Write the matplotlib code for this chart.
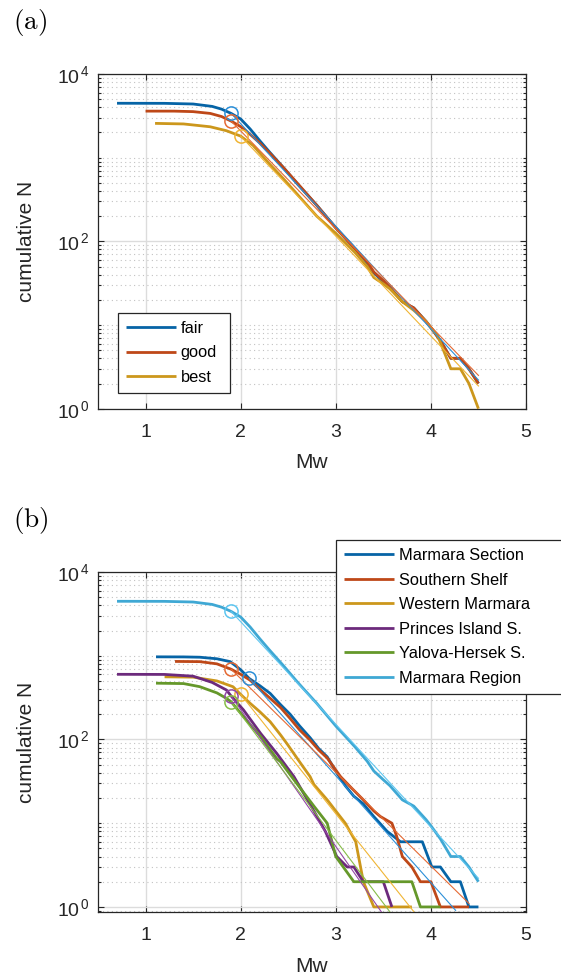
import numpy as np
import matplotlib
matplotlib.use('Agg')
import matplotlib.pyplot as plt
from matplotlib.ticker import FixedLocator, FixedFormatter, NullLocator, NullFormatter, LogLocator

plt.rcParams['font.family'] = ['Liberation Sans', 'DejaVu Sans']
plt.rcParams['mathtext.fontset'] = 'custom'
plt.rcParams['mathtext.rm'] = 'Liberation Sans'
plt.rcParams['mathtext.it'] = 'Liberation Sans:italic'
plt.rcParams['mathtext.bf'] = 'Liberation Sans:bold'

# ---------------- data: panel (a) ----------------
labels_a = ['fair', 'good', 'best']
fair_M = [0.70, 1.20, 1.50, 1.70, 1.80, 1.90, 2.00, 2.10, 2.20, 2.30, 2.45, 2.60, 2.80, 3.00, 3.20, 3.33, 3.40, 3.50, 3.57, 3.70, 3.82, 3.95, 4.01, 4.10, 4.21, 4.31, 4.40, 4.50]
fair_N = [4470, 4460, 4380, 4100, 3800, 3380, 2900, 2200, 1600, 1180, 760, 480, 270, 145, 82, 55, 42, 33, 28, 19, 16, 11, 9, 6.5, 4, 4, 3, 2]
good_M = [1.00, 1.30, 1.50, 1.68, 1.80, 1.90, 2.00, 2.10, 2.20, 2.30, 2.45, 2.60, 2.80, 3.00, 3.20, 3.33, 3.40, 3.50, 3.57, 3.70, 3.82, 3.95, 4.01, 4.10, 4.21, 4.31, 4.40, 4.50]
good_N = [3600, 3600, 3550, 3380, 3100, 2735, 2350, 1900, 1500, 1150, 760, 490, 270, 145, 82, 57, 43, 34, 28, 19, 16, 11, 9, 6.5, 4, 4, 3, 2]
best_M = [1.10, 1.40, 1.68, 1.85, 2.00, 2.13, 2.30, 2.45, 2.60, 2.80, 3.00, 3.20, 3.33, 3.40, 3.50, 3.57, 3.70, 3.82, 3.95, 4.01, 4.07, 4.21, 4.31, 4.40, 4.50]
best_N = [2570, 2530, 2340, 2100, 1810, 1400, 850, 560, 360, 200, 125, 74, 50, 37, 31, 27, 19, 15, 11, 9, 7.5, 3, 3, 2, 1]
# completeness magnitude (circle) and G-R fit end points
fit_a_M0 = [1.90, 1.90, 2.00]
fit_a_N0 = [3380, 2735, 1810]
fit_a_M1 = [4.50, 4.50, 4.50]
fit_a_N1 = [2.2, 2.5, 1.87]

# ---------------- data: panel (b) ----------------
labels_b = ['Marmara Section', 'Southern Shelf', 'Western Marmara',
            'Princes Island S.', 'Yalova-Hersek S.', 'Marmara Region']
sec_M = [1.11, 1.40, 1.57, 1.75, 1.89, 2.00, 2.09, 2.20, 2.31, 2.42, 2.52, 2.62, 2.73, 2.82, 2.91, 3.01, 3.10, 3.19, 3.29, 3.40, 3.54, 3.68, 3.91, 4.01, 4.10, 4.21, 4.31, 4.40, 4.50]
sec_N = [970, 968, 960, 920, 850, 680, 535, 440, 355, 260, 200, 145, 105, 78, 62, 40, 28, 21, 17, 12, 8, 6, 6, 3, 3, 2, 2, 1, 1]
shelf_M = [1.31, 1.57, 1.75, 1.90, 2.00, 2.10, 2.20, 2.31, 2.42, 2.52, 2.62, 2.73, 2.82, 2.91, 3.05, 3.17, 3.29, 3.40, 3.47, 3.59, 3.64, 3.70, 3.80, 3.89, 4.00, 4.10, 4.40]
shelf_N = [855, 850, 800, 690, 600, 510, 400, 310, 240, 178, 130, 98, 75, 60, 36, 26, 19, 14, 12, 10, 7, 4, 3, 2, 2, 1, 1]
west_M = [1.20, 1.50, 1.75, 1.92, 2.00, 2.10, 2.20, 2.31, 2.42, 2.49, 2.63, 2.73, 2.77, 2.91, 3.00, 3.10, 3.21, 3.29, 3.40, 3.80]
west_N = [560, 555, 500, 426, 345, 270, 215, 163, 113, 88, 52, 36, 29, 19, 14, 10, 6, 2, 1, 1]
princ_M = [0.70, 1.20, 1.50, 1.70, 1.85, 1.90, 2.03, 2.21, 2.38, 2.42, 2.56, 2.77, 2.89, 3.01, 3.12, 3.19, 3.29, 3.50, 3.59]
princ_N = [600, 598, 570, 480, 390, 330, 225, 118, 68, 59, 36, 14, 8, 4, 3, 3, 2, 2, 1]
yal_M = [1.11, 1.40, 1.57, 1.75, 1.85, 1.90, 2.03, 2.21, 2.38, 2.42, 2.56, 2.77, 2.91, 3.00, 3.19, 3.80, 3.89, 4.10]
yal_N = [470, 465, 427, 360, 310, 282, 187, 108, 59, 54, 33, 16, 10, 4, 2, 2, 1, 1]
fit_b_M0 = [2.09, 1.90, 2.00, 1.90, 1.90, 1.90]
fit_b_N0 = [535, 690, 345, 330, 282, 3380]
fit_b_M1 = [4.26, 4.40, 3.82, 3.48, 3.57, 4.50]
fit_b_N1 = [0.91, 1.1, 0.88, 0.87, 0.87, 2.2]

# ---------------- styles ----------------
thick_a = ['#0664A6', '#BE4818', '#CC971C']
light_a = ['#2B8FD8', '#E56A34', '#F0B534']
thick_b = ['#0664A6', '#BE4818', '#CC971C', '#6C2A7C', '#65982A', '#3FA8D4']
light_b = ['#2B8FD8', '#E56A34', '#F0B534', '#9447A6', '#86BC48', '#5EC6F0']

FS_TICK = 14
FS_LAB = 15
FS_LEG = 11.8

fig = plt.figure(figsize=(5.61, 9.77), dpi=100)
W, H = 561.0, 977.0
ax1 = fig.add_axes([98 / W, 1 - 408.7 / H, 428 / W, 334.7 / H])
ax2 = fig.add_axes([98 / W, 1 - 912 / H, 428 / W, 340 / H])


def style(ax, ybottom):
    ax.set_yscale('log')
    ax.set_xlim(0.5, 5)
    ax.set_ylim(ybottom, 1e4)
    ax.xaxis.set_major_locator(FixedLocator([1, 2, 3, 4, 5]))
    ax.xaxis.set_minor_locator(NullLocator())
    ax.yaxis.set_major_locator(FixedLocator([1, 1e2, 1e4]))
    ax.yaxis.set_major_formatter(FixedFormatter([r'$\mathregular{10^{\,0}}$', r'$\mathregular{10^{\,2}}$', r'$\mathregular{10^{\,4}}$']))
    ax.yaxis.set_minor_locator(LogLocator(base=10, subs=np.arange(1, 10), numticks=20))
    ax.yaxis.set_minor_formatter(NullFormatter())
    ax.set_axisbelow(True)
    ax.grid(True, which='major', axis='both', color='#dcdcdc', lw=1.0)
    ax.yaxis.grid(True, which='minor', color='#c2c2c2', lw=0.8, linestyle=(0, (1, 3)))
    ax.tick_params(which='both', direction='in', top=True, right=True,
                   colors='#262626', width=0.8, labelsize=FS_TICK)
    ax.tick_params(which='major', length=4.5)
    ax.tick_params(which='minor', length=2.5)
    ax.tick_params(axis='x', pad=11)
    ax.tick_params(axis='y', pad=6)
    for s in ax.spines.values():
        s.set_color('#262626')
        s.set_linewidth(0.9)
    ax.set_xlabel('Mw', fontsize=FS_LAB, color='#262626', labelpad=9)
    ax.set_ylabel('cumulative N', fontsize=FS_LAB, color='#262626', labelpad=15)


style(ax1, 1.0)
style(ax2, 0.87)

LEG_KW = dict(loc='upper left', bbox_transform=fig.transFigure, mode='expand', borderaxespad=0,
              fontsize=FS_LEG, handlelength=3.05, handletextpad=0.3, labelspacing=0.58,
              borderpad=0.5, fancybox=False, framealpha=1, edgecolor='#262626')

# ---- panel (a)
series_a = [(fair_M, fair_N), (good_M, good_N), (best_M, best_N)]
handles_a = []
for i, (m, n) in enumerate(series_a):
    h, = ax1.plot(m, n, color=thick_a[i], lw=2.0, solid_capstyle='butt', zorder=3, label=labels_a[i])
    handles_a.append(h)
    ax1.plot([fit_a_M0[i], fit_a_M1[i]], [fit_a_N0[i], fit_a_N1[i]], color=light_a[i], lw=0.8, zorder=4)
for i in range(3):
    ax1.plot([fit_a_M0[i]], [fit_a_N0[i]], 'o', ms=9.5, mfc='none', mec=light_a[i], mew=1.1, zorder=5)

hb = 0.05
leg1 = ax1.legend(handles=handles_a,
                  bbox_to_anchor=(117.7 / W, 1 - 312.7 / H - hb, (230 - 117.7) / W, hb), **LEG_KW)
leg1.get_frame().set_linewidth(0.9)

# ---- panel (b)
series_b = [(sec_M, sec_N), (shelf_M, shelf_N), (west_M, west_N),
            (princ_M, princ_N), (yal_M, yal_N), (fair_M, fair_N)]
handles_b = []
for i, (m, n) in enumerate(series_b):
    h, = ax2.plot(m, n, color=thick_b[i], lw=2.0, solid_capstyle='butt', zorder=3, label=labels_b[i])
    handles_b.append(h)
    ax2.plot([fit_b_M0[i], fit_b_M1[i]], [fit_b_N0[i], fit_b_N1[i]], color=light_b[i], lw=0.8, zorder=4)
for i in range(6):
    ax2.plot([fit_b_M0[i]], [fit_b_N0[i]], 'o', ms=9.5, mfc='none', mec=light_b[i], mew=1.1, zorder=5)

leg2 = ax2.legend(handles=handles_b,
                  bbox_to_anchor=(335.7 / W, 1 - 540 / H - hb, (580 - 335.7) / W, hb), **LEG_KW)
leg2.get_frame().set_linewidth(0.9)
leg2.set_zorder(10)

fig.text(12.6 / W, 1 - 29.3 / H, r'$\mathrm{(a)}$', math_fontfamily='cm', fontsize=19.5,
         ha='left', va='baseline', color='black')
fig.text(12.6 / W, 1 - 527 / H, r'$\mathrm{(b)}$', math_fontfamily='cm', fontsize=19.5,
         ha='left', va='baseline', color='black')

fig.savefig('out.png', dpi=100)
